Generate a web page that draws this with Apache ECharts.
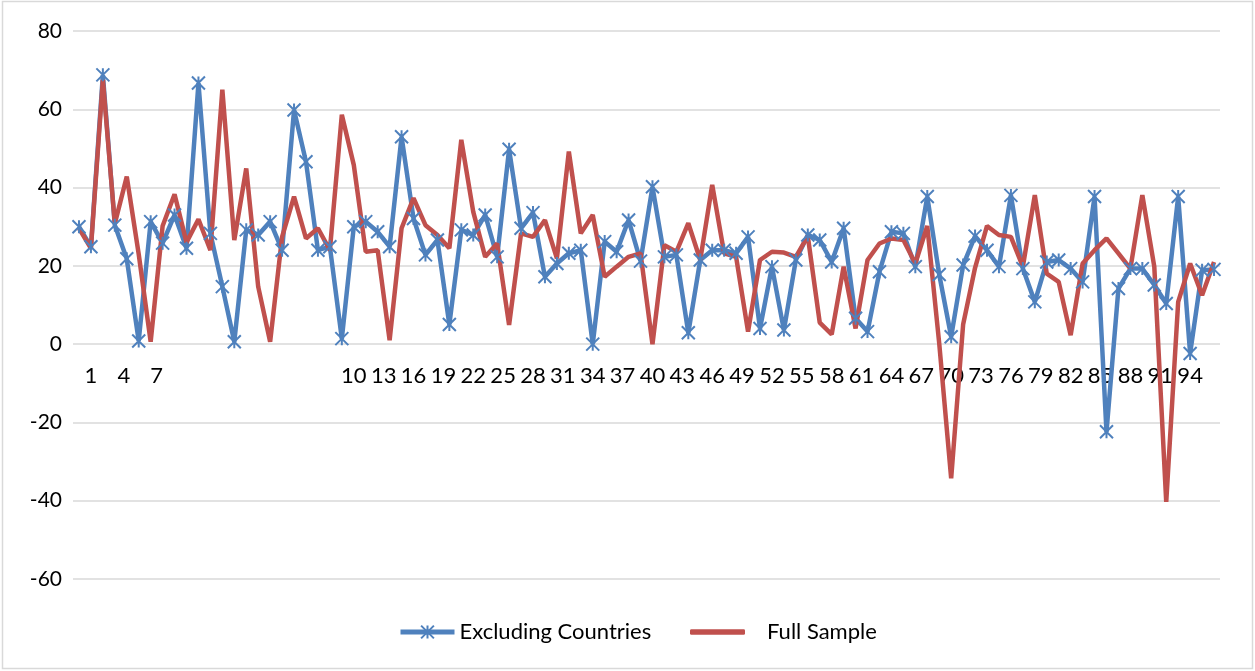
<!DOCTYPE html>
<html>
<head>
<meta charset="utf-8">
<script src="https://cdn.jsdelivr.net/npm/echarts@6/dist/echarts.min.js"></script>
<style>
html,body{margin:0;padding:0;background:#ffffff;}
#chart{width:1255px;height:671px;}
</style>
</head>
<body>
<div id="chart"></div>
<script>
// ---------- data ----------
const categories = Array.from({ length: 96 }, (_, i) => String(i + 1));

const excludingCountries = [
  30.0, 24.9, 68.8, 30.4, 21.8, 0.8, 31.3, 25.8, 33.0, 24.5,
  66.7, 28.3, 14.7, 0.6, 29.2, 27.9, 31.3, 24.0, 59.8, 46.6,
  24.0, 24.9, 1.4, 30.0, 31.3, 28.7, 24.9, 53.0, 32.1, 22.8,
  26.6, 5.0, 29.2, 27.9, 33.0, 22.3, 49.8, 29.6, 33.6, 17.2,
  20.6, 23.2, 24.0, 0.0, 26.2, 23.6, 31.7, 21.2, 40.2, 22.3,
  22.8, 2.9, 21.5, 24.0, 24.0, 23.2, 27.4, 4.0, 19.8, 3.6,
  21.5, 27.9, 26.6, 21.0, 29.6, 6.6, 3.2, 18.5, 28.7, 28.3,
  19.8, 37.7, 17.8, 1.9, 20.2, 27.6, 24.0, 19.8, 38.0, 19.3,
  10.8, 21.0, 21.5, 19.3, 15.9, 37.7, -22.4, 14.2, 19.3, 19.3,
  15.1, 10.4, 37.7, -2.4, 18.9, 19.1
];

const fullSample = [
  29.6, 24.5, 67.5, 30.8, 42.8, 23.0, 0.6, 30.2, 38.3, 26.0,
  31.9, 24.0, 65.0, 26.6, 44.9, 14.7, 0.6, 27.4, 37.7, 27.0,
  29.6, 24.0, 58.6, 45.8, 23.6, 24.0, 1.0, 29.6, 37.3, 30.4,
  27.9, 24.5, 52.2, 33.8, 22.3, 25.7, 4.9, 28.3, 27.4, 31.7,
  21.9, 49.2, 28.3, 33.0, 17.2, 19.8, 22.3, 23.2, 0.0, 25.3,
  23.6, 30.9, 21.5, 40.7, 23.2, 22.3, 3.2, 21.5, 23.6, 23.4,
  22.3, 27.6, 5.5, 2.5, 19.8, 4.0, 21.5, 25.7, 27.0, 26.6,
  20.6, 30.2, 0.2, -34.3, 5.0, 19.5, 30.2, 27.9, 27.4, 19.8,
  38.1, 18.0, 15.9, 2.3, 20.6, 24.0, 27.0, 23.2, 19.3, 38.1,
  19.8, -40.3, 10.8, 20.6, 12.5, 21.0
];

const xTickLabels = ['1', '4', '7', '10', '13', '16', '19', '22', '25', '28', '31',
  '34', '37', '40', '43', '46', '49', '52', '55', '58', '61', '64', '67', '70',
  '73', '76', '79', '82', '85', '88', '91', '94'];

const yMin = -60, yMax = 80, yStep = 20;

// ---------- layout ----------
const GRID = { left: 73, right: 35, top: 31, bottom: 92 };
const plotHeight = 671 - GRID.top - GRID.bottom;
// move the label row up from the plot bottom to the zero line
const zeroOffset = -((0 - yMin) / (yMax - yMin)) * plotHeight;

// label row layout (text placement only)
const labelSlots = 385;
const slotOf = (i) => (i < 3 ? [6, 17, 28][i] : 94 + (i - 3) * 10);
const labelRow = new Array(labelSlots).fill('');
xTickLabels.forEach((t, i) => { labelRow[slotOf(i)] = t; });

const BLUE = '#4F81BD';
const RED = '#C0504D';
const FONT = 'Lato';
const starPath = 'path://M0,0L10,10M10,0L0,10M5,0L5,10';

const chart = echarts.init(document.getElementById('chart'), null, { renderer: 'canvas' });

chart.setOption({
  animation: false,
  backgroundColor: '#ffffff',
  textStyle: { fontFamily: FONT },
  graphic: [{
    type: 'rect',
    shape: { x: 2.5, y: 1.5, width: 1250, height: 667 },
    style: { fill: 'none', stroke: '#D9D9D9', lineWidth: 1.5 },
    silent: true
  }],
  grid: Object.assign({ containLabel: false }, GRID),
  xAxis: [{
    type: 'category',
    data: categories,
    boundaryGap: true,
    axisLine: { show: false, onZero: false },
    axisTick: { show: false },
    axisLabel: { show: false },
    splitLine: { show: false }
  }, {
    type: 'category',
    gridIndex: 0,
    position: 'bottom',
    offset: zeroOffset,
    data: labelRow,
    boundaryGap: false,
    axisLine: { show: false, onZero: false },
    axisTick: { show: false },
    axisLabel: { interval: 0, color: '#000', fontFamily: FONT, fontSize: 22, margin: 21 },
    splitLine: { show: false }
  }],
  yAxis: {
    type: 'value',
    min: yMin, max: yMax, interval: yStep,
    axisLine: { show: false },
    axisTick: { show: false },
    axisLabel: { color: '#000', fontFamily: FONT, fontSize: 21, margin: 11 },
    splitLine: { lineStyle: { color: '#D9D9D9', width: 1.5 } }
  },
  legend: [{
    data: ['Excluding Countries'],
    left: 398, top: 621, padding: 0,
    itemWidth: 54, itemHeight: 16,
    lineStyle: { width: 5 },
    textStyle: { color: '#000', fontFamily: FONT, fontSize: 22 },
    selectedMode: false
  }, {
    data: [{ name: 'Full Sample', icon: 'roundRect' }],
    left: 690, top: 621, padding: 0,
    itemWidth: 55, itemHeight: 5.5,
    itemStyle: { color: RED },
    textStyle: { color: '#000', fontFamily: FONT, fontSize: 22, padding: [0, 0, 0, 17] },
    selectedMode: false
  }],
  series: [{
    name: 'Excluding Countries',
    type: 'line',
    xAxisIndex: 0,
    data: excludingCountries,
    symbol: starPath,
    symbolSize: 13,
    showAllSymbol: true,
    color: BLUE,
    itemStyle: { color: BLUE, borderColor: BLUE, borderWidth: 2 },
    lineStyle: { color: BLUE, width: 4.5 },
    emphasis: { disabled: true }
  }, {
    name: 'Full Sample',
    type: 'line',
    xAxisIndex: 0,
    data: fullSample,
    symbol: 'none',
    color: RED,
    itemStyle: { color: RED },
    lineStyle: { color: RED, width: 4.5 },
    emphasis: { disabled: true }
  }]
});
</script>
</body>
</html>
